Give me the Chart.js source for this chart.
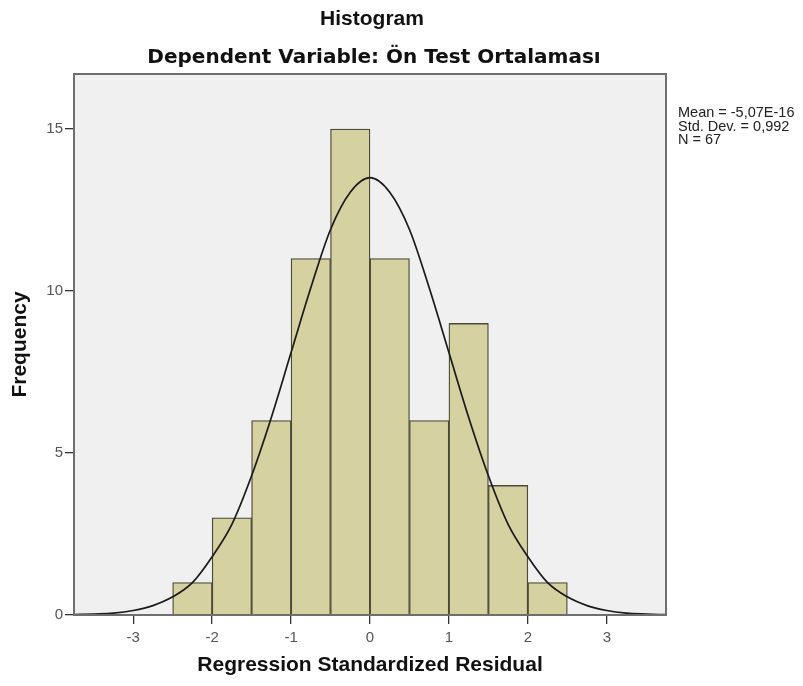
<!DOCTYPE html>
<html>
<head>
<meta charset="utf-8">
<script src="https://cdn.jsdelivr.net/npm/chart.js@4/dist/chart.umd.min.js"></script>
<style>
  html, body { margin: 0; padding: 0; background: #fff; }
  #wrap { width: 803px; height: 686px; }
</style>
</head>
<body>
<div id="wrap"><canvas id="histo" width="803" height="686"></canvas></div>
<script>
// histogram bins (centres of 0.5 wide bins) and their counts
let binCenters = [-2.25, -1.75, -1.25, -0.75, -0.25, 0.25, 0.75, 1.25, 1.75, 2.25];
let binCounts = [1, 3, 6, 11, 15, 11, 6, 9, 4, 1];

// normal curve
let curveX = [-3.75, -3.5, -3.25, -3, -2.75, -2.5, -2.25, -2, -1.75, -1.5, -1.25, -1, -0.75, -0.5, -0.25, 0,
              0.25, 0.5, 0.75, 1, 1.25, 1.5, 1.75, 2, 2.25, 2.5, 2.75, 3, 3.25, 3.5, 3.75];
let curveY = [0.01, 0.03, 0.06, 0.14, 0.29, 0.56, 1.0, 1.8, 2.8, 4.3, 6.1, 8.1, 10.1, 11.9, 13.05, 13.5,
              13.05, 11.9, 10.1, 8.1, 6.1, 4.3, 2.8, 1.8, 1.0, 0.56, 0.29, 0.14, 0.06, 0.03, 0.01];

let xTicks = [-3, -2, -1, 0, 1, 2, 3];
let yTicks = [0, 5, 10, 15];

let titleText = 'Histogram';
let subtitleText = 'Dependent Variable: Ön Test Ortalaması';
let statsLines = ['Mean = -5,07E-16', 'Std. Dev. = 0,992', 'N = 67'];

const histData = binCenters.map((c, i) => ({ x: c, y: binCounts[i] }));
const curveData = curveX.map((x, i) => ({ x: x, y: curveY[i] }));

// grey plot background + frame, titles and stats box
const decor = {
  id: 'decor',
  beforeDatasetsDraw(chart) {
    const { ctx, chartArea: a } = chart;
    ctx.save();
    ctx.fillStyle = '#f0f0f0';
    ctx.fillRect(a.left, a.top, a.right - a.left, a.bottom - a.top);
    ctx.restore();
  },
  afterDraw(chart) {
    const { ctx, chartArea: a } = chart;
    ctx.save();
    ctx.strokeStyle = '#6e6e6e';
    ctx.lineWidth = 2;
    ctx.strokeRect(a.left, a.top, a.right - a.left, a.bottom - a.top);

    const cx = (a.left + a.right) / 2;
    ctx.fillStyle = '#111';
    ctx.textAlign = 'center';
    ctx.textBaseline = 'middle';
    ctx.font = 'bold 21px "Liberation Sans", Arial, sans-serif';
    ctx.fillText(titleText, cx + 2, 19);
    ctx.font = 'bold 20px "DejaVu Sans", Verdana, sans-serif';
    ctx.fillText(subtitleText, cx + 4, 58);

    ctx.textAlign = 'left';
    ctx.font = '14.5px "Liberation Sans", Arial, sans-serif';
    ctx.fillStyle = '#222';
    statsLines.forEach((s, i) => ctx.fillText(s, a.right + 12, 113 + i * 13.5));
    ctx.restore();
  }
};

new Chart(document.getElementById('histo').getContext('2d'), {
  data: {
    datasets: [
      {
        type: 'line',
        data: curveData,
        borderColor: '#1a1a1a',
        borderWidth: 1.7,
        pointRadius: 0,
        cubicInterpolationMode: 'monotone',
        fill: false,
        order: 0
      },
      {
        type: 'bar',
        data: histData,
        backgroundColor: '#d5d1a1',
        borderColor: '#4a4836',
        borderWidth: 1.3,
        barPercentage: 1,
        categoryPercentage: 1,
        order: 1
      }
    ]
  },
  options: {
    responsive: false,
    animation: false,
    layout: { padding: { top: 74, right: 137, bottom: 0, left: 0 } },
    plugins: {
      legend: { display: false },
      tooltip: { enabled: false }
    },
    scales: {
      x: {
        type: 'linear',
        offset: false,
        min: -3.75,
        max: 3.75,
        afterBuildTicks(s) { s.ticks = xTicks.map(v => ({ value: v })); },
        afterFit(s) { s.height = 71; },
        grid: { offset: false, drawOnChartArea: false, drawTicks: true, tickLength: 9, color: '#333', lineWidth: 1.3 },
        border: { display: false },
        ticks: { color: '#555', font: { size: 15, family: '"Liberation Sans", Arial' }, padding: 5, maxRotation: 0 },
        title: {
          display: true,
          text: 'Regression Standardized Residual',
          color: '#111',
          font: { size: 21, weight: 'bold', family: '"Liberation Sans", Arial' },
          padding: { top: 4, bottom: 8 }
        }
      },
      y: {
        type: 'linear',
        min: 0,
        max: 16.7,
        afterBuildTicks(s) { s.ticks = yTicks.map(v => ({ value: v })); },
        afterFit(s) { s.width = 74; },
        grid: { drawOnChartArea: false, drawTicks: true, tickLength: 9, color: '#333', lineWidth: 1.3 },
        border: { display: false },
        ticks: { color: '#555', font: { size: 15, family: '"Liberation Sans", Arial' }, padding: 2 },
        title: {
          display: true,
          text: 'Frequency',
          color: '#111',
          font: { size: 21, weight: 'bold', family: '"Liberation Sans", Arial' },
          padding: { top: 8, bottom: 4 }
        }
      }
    }
  },
  plugins: [decor]
});
</script>
</body>
</html>
